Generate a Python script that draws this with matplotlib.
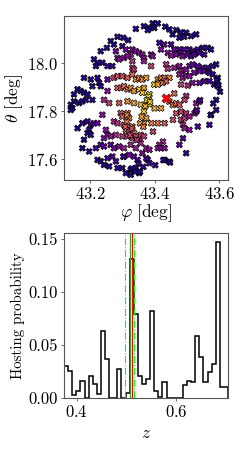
import numpy as np
import matplotlib
matplotlib.use("Agg")
import matplotlib.pyplot as plt

plt.rcParams['font.family'] = 'serif'
plt.rcParams['font.serif'] = ['cmr10']
plt.rcParams['mathtext.fontset'] = 'cm'
plt.rcParams['axes.formatter.use_mathtext'] = True

# ---- sky map of candidate hosts: phi [deg], theta [deg], relative probability ----
phi = [43.342, 43.367, 43.285, 43.303, 43.318, 43.264, 43.252, 43.233, 43.274, 43.280,
       43.300, 43.311, 43.331, 43.342, 43.352, 43.362, 43.367, 43.326, 43.285, 43.290,
       43.305, 43.316, 43.331, 43.367, 43.212, 43.223, 43.218, 43.238, 43.254, 43.269,
       43.331, 43.336, 43.181, 43.202, 43.223, 43.228, 43.233, 43.207, 43.254, 43.274,
       43.285, 43.300, 43.316, 43.331, 43.342, 43.352, 43.362, 43.161, 43.171, 43.181,
       43.150, 43.192, 43.254, 43.285, 43.295, 43.305, 43.316, 43.326, 43.336, 43.352,
       43.362, 43.367,
       43.394, 43.410, 43.384, 43.399, 43.379, 43.433, 43.446, 43.467, 43.482, 43.498,
       43.456, 43.477, 43.492, 43.513, 43.529, 43.415, 43.430, 43.420, 43.451, 43.461,
       43.477, 43.492, 43.508, 43.518, 43.534, 43.549, 43.565, 43.575, 43.389, 43.394,
       43.441, 43.451, 43.467, 43.482, 43.487, 43.503, 43.513, 43.523, 43.539, 43.554,
       43.389, 43.436, 43.441, 43.461, 43.477, 43.482, 43.498, 43.508, 43.518, 43.534,
       43.549, 43.565, 43.580, 43.591, 43.477, 43.487, 43.498, 43.508, 43.523, 43.539,
       43.554, 43.570, 43.580, 43.596, 43.374, 43.410, 43.420, 43.430, 43.446, 43.415,
       43.399, 43.410, 43.425, 43.436, 43.482, 43.503, 43.518, 43.539, 43.554, 43.570,
       43.585, 43.596, 43.384, 43.461, 43.498,
       43.150, 43.166, 43.176, 43.187, 43.207, 43.140, 43.145, 43.243, 43.259, 43.290,
       43.316, 43.336, 43.357, 43.238, 43.295, 43.300, 43.316, 43.321, 43.367, 43.161,
       43.176, 43.192, 43.202, 43.212, 43.223, 43.197, 43.192, 43.202, 43.249, 43.274,
       43.285, 43.305, 43.311, 43.321, 43.331, 43.336, 43.357, 43.367, 43.243, 43.254,
       43.264, 43.280, 43.300, 43.316, 43.331, 43.342, 43.352, 43.367, 43.181, 43.176,
       43.197, 43.218, 43.233, 43.243, 43.264, 43.274, 43.290, 43.305, 43.326, 43.342,
       43.357, 43.223, 43.233, 43.254, 43.269, 43.280, 43.305, 43.321, 43.336, 43.347,
       43.362, 43.243, 43.259, 43.285, 43.300, 43.326, 43.342, 43.352, 43.326, 43.311,
       43.379, 43.384, 43.400, 43.420, 43.446, 43.457, 43.467, 43.477, 43.467, 43.482,
       43.498, 43.493, 43.529, 43.539, 43.591, 43.591, 43.575, 43.374, 43.390, 43.410,
       43.431, 43.457, 43.482, 43.493, 43.508, 43.524, 43.529, 43.570, 43.395, 43.488,
       43.493, 43.508, 43.534, 43.426, 43.415, 43.410, 43.420, 43.431, 43.477, 43.488,
       43.498, 43.374, 43.384, 43.374, 43.379, 43.384, 43.431, 43.446,
       43.329, 43.340, 43.355, 43.365, 43.350, 43.303, 43.402, 43.427, 43.448, 43.582,
       43.598, 43.603, 43.593, 43.574, 43.541, 43.531, 43.140, 43.381, 43.376, 43.386,
       43.371, 43.360, 43.355, 43.365, 43.314, 43.314, 43.309, 43.329, 43.324, 43.345]
theta = [18.144, 18.155, 18.111, 18.107, 18.097, 18.093, 18.065, 18.051, 18.079, 18.051,
         18.072, 18.058, 18.058, 18.051, 18.044, 18.037, 18.023, 18.037, 18.023, 18.017,
         18.023, 18.030, 18.010, 18.010, 18.017, 18.003, 17.989, 18.003, 17.989, 17.989,
         17.982, 17.975, 17.940, 17.933, 17.940, 17.919, 17.905, 17.905, 17.933, 17.940,
         17.947, 17.947, 17.940, 17.954, 17.933, 17.940, 17.933, 17.892, 17.885, 17.878,
         17.871, 17.871, 17.885, 17.898, 17.898, 17.905, 17.892, 17.898, 17.885, 17.892,
         17.878, 17.898,
         18.167, 18.167, 18.148, 18.148, 18.139, 18.153, 18.142, 18.139, 18.130, 18.128,
         18.121, 18.107, 18.111, 18.114, 18.121, 18.086, 18.079, 18.058, 18.079, 18.058,
         18.058, 18.058, 18.058, 18.051, 18.058, 18.065, 18.065, 18.058, 18.037, 18.030,
         18.044, 18.033, 18.037, 18.044, 18.030, 18.037, 18.030, 18.037, 18.044, 18.037,
         17.989, 17.996, 17.978, 17.982, 17.989, 17.968, 17.975, 17.989, 17.996, 17.989,
         17.982, 17.982, 17.989, 17.996, 17.954, 17.940, 17.950, 17.947, 17.961, 17.968,
         17.968, 17.961, 17.954, 17.940, 17.940, 17.933, 17.940, 17.940, 17.940, 17.919,
         17.912, 17.912, 17.919, 17.926, 17.912, 17.908, 17.919, 17.919, 17.926, 17.926,
         17.912, 17.905, 17.871, 17.875, 17.864,
         17.842, 17.835, 17.842, 17.848, 17.848, 17.828, 17.814, 17.848, 17.835, 17.835,
         17.842, 17.835, 17.828, 17.786, 17.793, 17.779, 17.793, 17.772, 17.800, 17.730,
         17.751, 17.758, 17.744, 17.751, 17.751, 17.723, 17.710, 17.702, 17.723, 17.758,
         17.751, 17.744, 17.723, 17.723, 17.737, 17.710, 17.702, 17.751, 17.689, 17.702,
         17.696, 17.702, 17.696, 17.696, 17.689, 17.696, 17.682, 17.696, 17.682, 17.647,
         17.633, 17.647, 17.661, 17.654, 17.661, 17.647, 17.654, 17.647, 17.661, 17.647,
         17.668, 17.598, 17.592, 17.605, 17.612, 17.592, 17.612, 17.619, 17.612, 17.598,
         17.626, 17.577, 17.571, 17.564, 17.564, 17.557, 17.564, 17.543, 17.536, 17.543,
         17.841, 17.830, 17.813, 17.813, 17.841, 17.827, 17.834, 17.827, 17.792, 17.799,
         17.792, 17.848, 17.834, 17.841, 17.848, 17.806, 17.786, 17.772, 17.751, 17.751,
         17.751, 17.765, 17.765, 17.772, 17.779, 17.792, 17.799, 17.744, 17.716, 17.744,
         17.730, 17.723, 17.737, 17.674, 17.661, 17.647, 17.647, 17.647, 17.661, 17.688,
         17.626, 17.647, 17.640, 17.605, 17.598, 17.584, 17.598, 17.591,
         17.562, 17.549, 17.549, 17.569, 17.583, 17.611, 17.576, 17.597, 17.587, 17.833,
         17.910, 17.882, 17.931, 17.785, 17.847, 17.806, 17.806, 17.861, 17.847, 17.840,
         17.822, 17.778, 17.750, 17.736, 17.785, 17.757, 17.736, 17.729, 17.701, 17.681]
prob = [0.05, 0.05, 0.05, 0.05, 0.05, 0.05, 0.05, 0.05, 0.05, 0.20,
        0.08, 0.25, 0.25, 0.30, 0.30, 0.30, 0.30, 0.35, 0.30, 0.30,
        0.30, 0.30, 0.45, 0.35, 0.05, 0.05, 0.05, 0.05, 0.08, 0.08,
        0.50, 0.45, 0.05, 0.05, 0.05, 0.05, 0.05, 0.05, 0.20, 0.50,
        0.55, 0.55, 0.60, 0.65, 0.75, 0.70, 0.75, 0.03, 0.03, 0.03,
        0.03, 0.05, 0.30, 0.60, 0.60, 0.65, 0.65, 0.75, 0.80, 0.90,
        0.90, 0.80,
        0.03, 0.03, 0.03, 0.03, 0.03, 0.03, 0.03, 0.03, 0.03, 0.03,
        0.03, 0.05, 0.05, 0.05, 0.05, 0.08, 0.20, 0.25, 0.10, 0.20,
        0.15, 0.15, 0.10, 0.08, 0.08, 0.05, 0.05, 0.05, 0.30, 0.30,
        0.30, 0.30, 0.25, 0.20, 0.25, 0.20, 0.15, 0.15, 0.10, 0.10,
        0.50, 0.45, 0.45, 0.35, 0.30, 0.35, 0.30, 0.25, 0.20, 0.15,
        0.15, 0.10, 0.05, 0.05, 0.35, 0.35, 0.30, 0.30, 0.25, 0.20,
        0.15, 0.10, 0.05, 0.05, 0.80, 0.75, 0.70, 0.65, 0.75, 0.80,
        0.95, 0.85, 0.70, 0.60, 0.50, 0.40, 0.30, 0.20, 0.15, 0.10,
        0.05, 0.05, 0.95, 0.65, 0.40,
        0.03, 0.03, 0.03, 0.05, 0.05, 0.03, 0.03, 0.40, 0.50, 0.60,
        0.75, 0.80, 0.90, 0.30, 0.55, 0.60, 0.70, 0.75, 0.90, 0.03,
        0.05, 0.08, 0.10, 0.15, 0.20, 0.08, 0.05, 0.05, 0.30, 0.40,
        0.45, 0.55, 0.60, 0.60, 0.75, 0.70, 0.55, 0.75, 0.25, 0.30,
        0.35, 0.40, 0.45, 0.50, 0.55, 0.55, 0.45, 0.50, 0.03, 0.03,
        0.05, 0.08, 0.15, 0.20, 0.20, 0.25, 0.30, 0.35, 0.40, 0.35,
        0.40, 0.05, 0.05, 0.10, 0.15, 0.10, 0.20, 0.25, 0.20, 0.15,
        0.25, 0.03, 0.03, 0.05, 0.05, 0.05, 0.05, 0.03, 0.03, 0.03,
        0.95, 0.95, 0.85, 0.80, 0.75, 0.65, 0.70, 0.60, 0.55, 0.50,
        0.45, 0.50, 0.35, 0.30, 0.05, 0.05, 0.10, 0.80, 0.70, 0.65,
        0.60, 0.55, 0.50, 0.45, 0.35, 0.30, 0.30, 0.10, 0.50, 0.40,
        0.35, 0.30, 0.15, 0.40, 0.35, 0.30, 0.30, 0.30, 0.20, 0.15,
        0.05, 0.35, 0.30, 0.15, 0.10, 0.10, 0.05, 0.05,
        0.03, 0.03, 0.03, 0.05, 0.08, 0.10, 0.05, 0.05, 0.05, 0.05,
        0.03, 0.03, 0.03, 0.05, 0.10, 0.15, 0.03, 0.95, 0.95, 0.90,
        0.85, 0.80, 0.75, 0.70, 0.70, 0.65, 0.60, 0.55, 0.50, 0.45]

true_host_phi = [43.436]
true_host_theta = [17.858]

# ---- redshift histogram ----
z_min, z_max = 0.3743, 0.7044
host_prob = [0.030, 0.0255, 0.0025, 0.007, 0.0164, 0.0, 0.021, 0.0136, 0.004, 0.0637,
             0.037, 0.0, 0.0, 0.027, 0.0, 0.0047, 0.131, 0.0797, 0.0206, 0.0128,
             0.0176, 0.082, 0.007, 0.001, 0.0155, 0.0, 0.0, 0.0, 0.0, 0.0126,
             0.0158, 0.015, 0.059, 0.039, 0.0155, 0.0246, 0.0325, 0.1475, 0.0105, 0.0104]
z_true = 0.5117
z_est = 0.5065
z_est_lo = 0.4964
z_est_hi = 0.5152

fig = plt.figure(figsize=(2.49, 4.49), dpi=100)
ax1 = fig.add_axes([0.257, 0.599, 0.659, 0.365])
ax2 = fig.add_axes([0.257, 0.1136, 0.659, 0.367])

ax1.scatter(phi, theta, c=prob, cmap='plasma', vmin=0, vmax=1, marker='X',
            s=20, edgecolors='black', linewidths=0.5, zorder=2)
ax1.scatter(true_host_phi, true_host_theta, color='red', marker='X', s=45,
            edgecolors='black', linewidths=0.3, zorder=3)
ax1.set_xlim(43.119, 43.628)
ax1.set_ylim(17.514, 18.197)
ax1.set_xticks([43.2, 43.4, 43.6])
ax1.set_yticks([17.6, 17.8, 18.0])
ax1.set_xlabel(r'$\varphi\ [\mathrm{deg}]$', fontsize=12.5, labelpad=0)
ax1.set_ylabel(r'$\theta\ [\mathrm{deg}]$', fontsize=12.5, labelpad=1)

edges = np.linspace(z_min, z_max, len(host_prob) + 1)
ax2.stairs(host_prob, edges, baseline=0, color='black', linewidth=1.1, zorder=2)
ax2.axvline(z_est_lo, color='lime', linestyle='-.', linewidth=0.8, zorder=3)
ax2.axvline(z_est_hi, color='lime', linestyle='-.', linewidth=0.8, zorder=3)
ax2.axvline(z_est, color='#3a9a3a', linestyle='-', linewidth=0.9, zorder=3)
ax2.axvline(z_true, color='red', linestyle='-', linewidth=0.9, zorder=3)
ax2.set_xlim(z_min, z_max)
ax2.set_ylim(0, 0.1557)
ax2.set_xticks([0.4, 0.6])
ax2.set_yticks([0.0, 0.05, 0.10, 0.15])
ax2.set_yticklabels(['0.00', '0.05', '0.10', '0.15'])
ax2.set_xlabel(r'$z$', fontsize=12.5, labelpad=4)
ax2.set_ylabel('Hosting probability', fontsize=10.8, labelpad=2)

for ax in (ax1, ax2):
    for sp in ax.spines.values():
        sp.set_color('#555555')
        sp.set_linewidth(0.8)
    ax.tick_params(labelsize=12, length=2.5, width=0.6, color='#555555', pad=2)

fig.savefig('out.png', dpi=100)
